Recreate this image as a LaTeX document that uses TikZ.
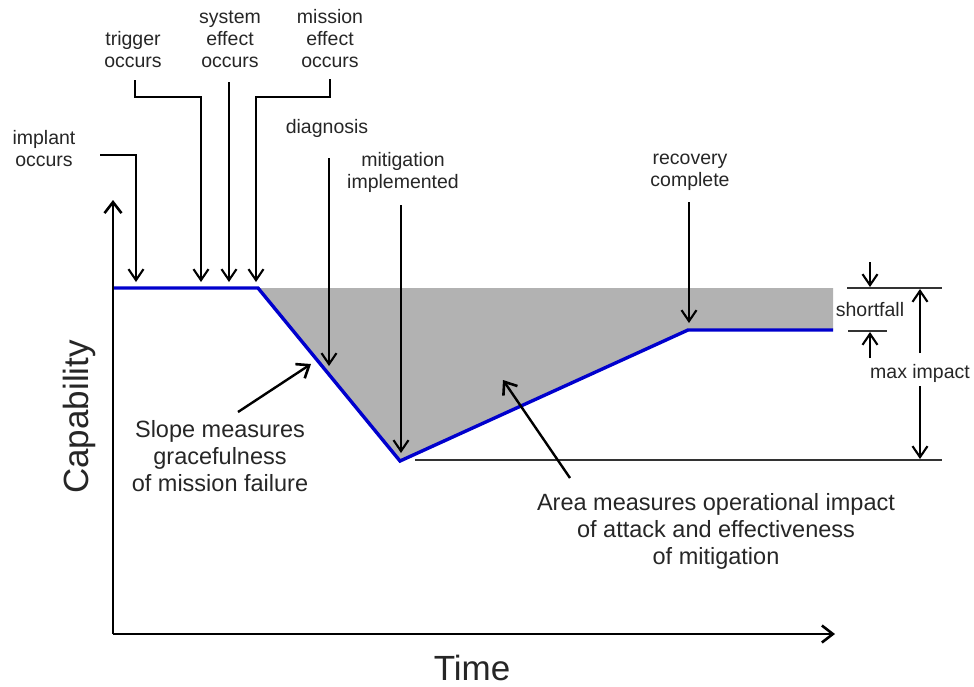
\documentclass[tikz,border=0pt]{standalone}
\usepackage{fontspec}
\setmainfont{Liberation Sans}
\usetikzlibrary{arrows.meta,calc}
\definecolor{curveblue}{RGB}{0,0,205}
\definecolor{lossgray}{RGB}{178,178,178}
\definecolor{inkgray}{RGB}{38,38,38}
\begin{document}
\begin{tikzpicture}[x=1pt,y=-1pt,
  lbl/.style={align=center,text=inkgray,font=\fontsize{19.5}{22}\selectfont,inner sep=0pt},
  note/.style={align=center,text=inkgray,font=\fontsize{23.5}{27}\selectfont,inner sep=0pt},
  axtitle/.style={text=inkgray,font=\fontsize{35}{40}\selectfont,inner sep=0pt},
  conn/.style={line width=1.4pt,-{Straight Barb[length=11pt,width=15pt,line width=2.1pt]}},
  pointer/.style={line width=2.4pt,-{Straight Barb[length=11pt,width=17pt,line width=2.6pt]}},
  axis/.style={line width=2.4pt,-{Straight Barb[length=11pt,width=17pt,line width=2.6pt]}},
  tick/.style={line width=1.4pt,black!80},
  curve/.style={line width=3.4pt,curveblue}
]
\useasboundingbox (0,0) rectangle (974,686);

% capability profile
\coordinate (origin) at (113,634);
\coordinate (c0) at (113,288);
\coordinate (c1) at (258,288);
\coordinate (c2) at (400,461);
\coordinate (c3) at (688,330);
\coordinate (c4) at (833,330);
\coordinate (c5) at (833,288);

% lost capability area
\fill[lossgray] (c1) -- (c5) -- (c4) -- (c3) -- (c2) -- cycle;

% baseline of the deepest point and the measurement ticks
\draw[tick] (415,460) -- (942,460);
\draw[tick] (847,288) -- (942,288);
\draw[tick] (848,331) -- (887,331);

% capability curve
\draw[curve] (c0) -- (c1) -- (c2) -- (c3) -- (c4);

% axes
\coordinate (ytop) at (113,200);
\coordinate (xend) at (835,634);
\draw[axis] (origin) -- (ytop);
\draw[axis] (origin) -- (xend);
\node[axtitle,rotate=90] (ylab) at (79,417) {Capability};
\node[axtitle] (xlab) at (472,668) {Time};

% event labels
\node[lbl] (implant) at (44,149) {implant\\occurs};
\node[lbl] (trigger) at (133,50) {trigger\\occurs};
\node[lbl] (system) at (230,39) {system\\effect\\occurs};
\node[lbl] (mission) at (330,39) {mission\\effect\\occurs};
\node[lbl] (diag) at (327,128) {diagnosis};
\node[lbl] (mitig) at (403,172) {mitigation\\implemented};
\node[lbl] (recov) at (690,172) {recovery\\complete};

% event connectors
\coordinate (implantS) at (100,155);
\coordinate (implantT) at (136,282);
\draw[conn] (implantS) -| (implantT);

\coordinate (triggerS) at (135,80);
\coordinate (triggerT) at (201,282);
\draw[conn] (triggerS) |- (168,97) -| (triggerT);

\coordinate (systemS) at (229,82);
\coordinate (systemT) at (229,282);
\draw[conn] (systemS) -- (systemT);

\coordinate (missionS) at (330,79);
\coordinate (missionT) at (256,282);
\draw[conn] (missionS) |- (293,97) -| (missionT);

\coordinate (diagS) at (329,158);
\coordinate (diagT) at (329,366);
\draw[conn] (diagS) -- (diagT);

\coordinate (mitigS) at (401,205);
\coordinate (mitigT) at (401,453);
\draw[conn] (mitigS) -- (mitigT);

\coordinate (recovS) at (689,202);
\coordinate (recovT) at (689,323);
\draw[conn] (recovS) -- (recovT);

% explanatory notes
\node[note] (slope) at (220,456) {Slope measures\\gracefulness\\of mission failure};
\node[note] (area) at (716,531) {Area measures operational impact\\of attack and effectiveness\\of mitigation};
\coordinate (slopeS) at (238,412);
\coordinate (slopeT) at (311,364);
\draw[pointer] (slopeS) -- (slopeT);
\coordinate (areaS) at (570,478);
\coordinate (areaT) at (503,380);
\draw[pointer] (areaS) -- (areaT);

% shortfall and max impact dimensions
\node[lbl] (short) at (870,310) {shortfall};
\node[lbl] (maxi) at (920,373) {max impact};
\coordinate (sfA) at (870,262);
\coordinate (sfAT) at (870,287);
\coordinate (sfB) at (870,358);
\coordinate (sfBT) at (870,332);
\draw[conn] (sfA) -- (sfAT);
\draw[conn] (sfB) -- (sfBT);
\coordinate (miA) at (920,353);
\coordinate (miAT) at (920,289);
\coordinate (miB) at (920,386);
\coordinate (miBT) at (920,459);
\draw[conn] (miA) -- (miAT);
\draw[conn] (miB) -- (miBT);
\end{tikzpicture}
\end{document}
